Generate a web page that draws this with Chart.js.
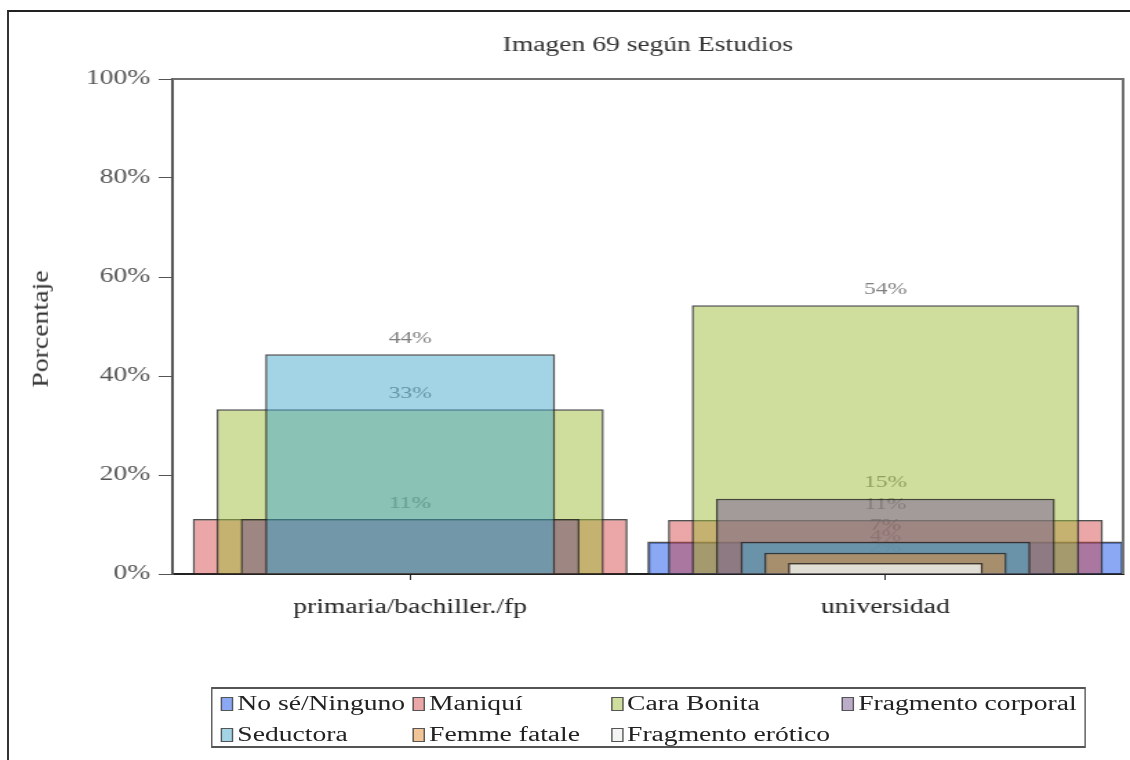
<!DOCTYPE html>
<html>
<head>
<meta charset="utf-8">
<script src="https://cdn.jsdelivr.net/npm/chart.js@4"></script>
<style>
  body { margin: 0; background: #fff; }
  #wrap { position: relative; width: 1130px; height: 760px; overflow: hidden; font-family: "Liberation Serif", serif; }
  #frame { position: absolute; left: 7px; top: 10px; width: 1130px; height: 760px; border-top: 2px solid #222; border-left: 2px solid #333; }
  /* the original picture is stretched sideways, so draw narrow and widen */
  #stretch { position: absolute; left: 0; top: 0; width: 819px; height: 760px; transform: scaleX(1.3797); transform-origin: 0 0; }
  #chart { position: absolute; left: 0; top: 0; }
  #ytitle { position: absolute; left: 40px; top: 329px; font-size: 20px; color: #333; white-space: nowrap;
            transform: translate(-50%, -50%) rotate(-90deg) scale(1.39, 1.15); }
  #legend { position: absolute; left: 153px; top: 687px; width: 632px; height: 57px; border: 2px solid #555; border-left-width: 1.5px; border-right-width: 1.5px; }
  .item { position: absolute; font-size: 20px; color: #222; white-space: nowrap; line-height: 24px; }
  .sw { display: inline-block; width: 7px; height: 12px; border: 1px solid #555; margin-right: 3px; vertical-align: -1px; }
</style>
</head>
<body>
<div id="wrap">
  <div id="frame"></div>
  <div id="stretch">
    <canvas id="chart" width="819" height="640"></canvas>
    <div id="legend"></div>
  </div>
  <div id="ytitle">Porcentaje</div>
</div>
<script>
const categories = ["primaria/bachiller./fp", "universidad"];
const seriesNames = ["No sé/Ninguno", "Maniquí", "Cara Bonita", "Fragmento corporal", "Seductora", "Femme fatale", "Fragmento erótico"];
const noSe = [null, 6.5];
const maniqui = [11.1, 10.9];
const caraBonita = [33.3, 54.3];
const fragCorporal = [11.1, 15.2];
const seductora = [44.4, 6.5];
const femmeFatale = [null, 4.3];
const fragErotico = [null, 2.2];
const yTicks = [0, 20, 40, 60, 80, 100];

const seriesValues = [noSe, maniqui, caraBonita, fragCorporal, seductora, femmeFatale, fragErotico];
const fills = [
  "rgba(60,110,235,0.6)",
  "rgba(210,60,60,0.45)",
  "rgba(160,190,60,0.5)",
  "rgba(120,90,150,0.5)",
  "rgba(70,170,205,0.5)",
  "rgba(230,140,50,0.5)",
  "rgba(240,243,240,0.8)"
];
const widths = [1.0, 0.915, 0.815, 0.713, 0.61, 0.51, 0.41];
const serif = "'Liberation Serif', 'DejaVu Serif', serif";

const datasets = seriesNames.map((name, i) => ({
  label: name,
  data: seriesValues[i],
  backgroundColor: fills[i],
  borderColor: "rgba(35,35,35,0.8)",
  borderWidth: 1.5,
  barPercentage: widths[i],
  categoryPercentage: 1,
  grouped: false,
  order: seriesNames.length - i
}));

// value labels, drawn under the bars so the translucent fills tint them
const barLabels = {
  id: "barLabels",
  beforeDatasetsDraw(chart) {
    const ctx = chart.ctx;
    ctx.save();
    ctx.font = "17px " + serif;
    ctx.fillStyle = "#808080";
    ctx.textAlign = "center";
    ctx.textBaseline = "middle";
    chart.data.datasets.forEach((ds, i) => {
      chart.getDatasetMeta(i).data.forEach((bar, j) => {
        const v = ds.data[j];
        if (v == null) return;
        ctx.fillText(Math.round(v) + "%", bar.x, bar.y - 16);
      });
    });
    ctx.restore();
  }
};

const plotFrame = {
  id: "plotFrame",
  afterDraw(chart) {
    const { ctx, chartArea: a } = chart;
    ctx.save();
    ctx.strokeStyle = "#707070";
    ctx.lineWidth = 2;
    ctx.beginPath();
    ctx.moveTo(a.left, a.top);
    ctx.lineTo(a.right, a.top);
    ctx.lineTo(a.right, a.bottom);
    ctx.stroke();
    ctx.restore();
  }
};

new Chart(document.getElementById("chart"), {
  type: "bar",
  data: { labels: categories, datasets },
  options: {
    responsive: false,
    animation: false,
    layout: { padding: { left: 0, right: 5, top: 0, bottom: 0 } },
    plugins: {
      legend: { display: false },
      tooltip: { enabled: false },
      title: {
        display: true,
        text: "Imagen 69 según Estudios",
        fullSize: false,
        color: "#333",
        font: { family: serif, size: 20, weight: "normal" },
        padding: { top: 34, bottom: 21 }
      }
    },
    scales: {
      x: {
        offset: true,
        grid: { drawOnChartArea: false, offset: false, tickLength: 6, color: "#333" },
        border: { color: "#222", width: 2 },
        ticks: { color: "#222", padding: 16, font: { family: serif, size: 20 } },
        afterFit: (s) => { s.height = 66; }
      },
      y: {
        min: 0,
        max: 100,
        afterBuildTicks: (s) => { s.ticks = yTicks.map((v) => ({ value: v })); },
        grid: { drawOnChartArea: false, tickLength: 10, color: "#555" },
        border: { color: "#555", width: 2 },
        ticks: { color: "#555", padding: 6, font: { family: serif, size: 20 }, callback: (v) => v + "%" },
        afterFit: (s) => { s.width = 125; }
      }
    }
  },
  plugins: [barLabels, plotFrame]
});

// legend box like the original, columns of unequal width
const legend = document.getElementById("legend");
const colX = [6, 145, 288.5, 456];
const rowY = [2, 33];
seriesNames.forEach((name, i) => {
  const el = document.createElement("div");
  el.className = "item";
  el.style.left = colX[i % 4] + "px";
  el.style.top = rowY[Math.floor(i / 4)] + "px";
  el.innerHTML = `<span class="sw" style="background:${fills[i]}"></span>${name}`;
  legend.appendChild(el);
});
</script>
</body>
</html>
